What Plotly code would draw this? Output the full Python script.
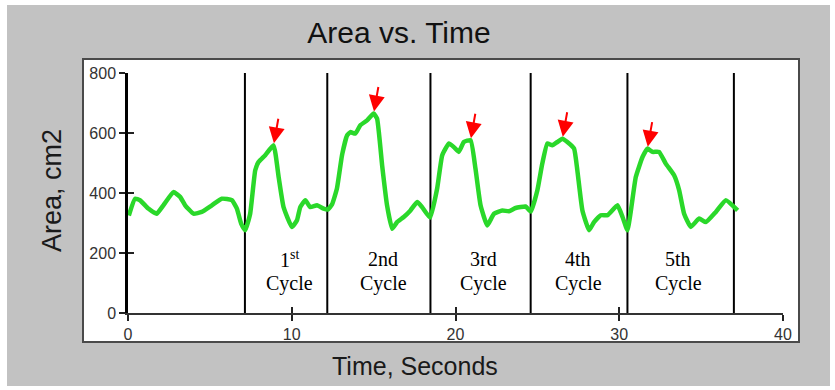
import plotly.graph_objects as go

# ---- data -------------------------------------------------------------
time_s = [0.05, 0.43, 0.73, 1.24, 1.75, 2.16, 2.77, 3.18, 3.49, 4.0, 4.5, 5.12,
          5.73, 6.34, 6.65, 6.91, 7.16, 7.46, 7.77, 7.97, 8.38, 8.89, 9.2, 9.5,
          10.01, 10.32, 10.52, 10.83, 11.13, 11.54, 11.95, 12.2, 12.46, 12.76,
          13.07, 13.38, 13.58, 13.88, 14.19, 14.6, 15.0, 15.21, 15.52, 15.82,
          16.13, 16.43, 16.84, 17.25, 17.66, 17.96, 18.45, 18.88, 19.19, 19.6,
          19.9, 20.2, 20.51, 20.92, 21.22, 21.53, 21.94, 22.35, 22.86, 23.26,
          23.67, 24.28, 24.6, 25.0, 25.3, 25.61, 25.91, 26.22, 26.53, 26.83,
          27.24, 27.44, 27.75, 28.16, 28.46, 28.87, 29.28, 29.89, 30.2, 30.5,
          30.7, 31.01, 31.42, 31.72, 32.03, 32.43, 32.84, 33.35, 33.66, 33.96,
          34.37, 34.88, 35.29, 35.9, 36.51, 37.23]
area_cm2 = [325, 381, 376, 348, 331, 359, 403, 387, 359, 331, 337, 359,
            381, 376, 348, 298, 276, 331, 476, 503, 526, 559, 453, 353,
            287, 309, 353, 376, 353, 359, 348, 345, 362, 415,
            526, 592, 603, 598, 626, 642, 665, 648, 492, 359,
            281, 303, 320, 342, 370, 353, 318, 415, 526, 565,
            553, 537, 570, 576, 481, 359, 292, 331, 342, 339,
            350, 355, 338, 409, 498, 565, 559, 570, 581, 570,
            548, 476, 342, 276, 303, 326, 326, 359, 320, 276,
            337, 453, 520, 548, 537, 537, 498, 459, 409, 331,
            287, 315, 303, 337, 376, 342]

cycle_bounds = [7.14, 12.17, 18.47, 24.59, 30.5, 37.0]
peak_time = [8.89, 15.0, 20.92, 26.53, 31.72]
peak_area = [559, 665, 576, 581, 548]
cycle_ordinal = ["1<sup>st</sup>", "2nd", "3rd", "4th", "5th"]
cycle_label_x = [9.85, 15.6, 21.7, 27.5, 33.6]
x_ticks = [0, 10, 20, 30, 40]
y_ticks = [0, 200, 400, 600, 800]

# ---- geometry helpers (pixel -> paper coordinates) ----------------------
W, H = 835, 390
ML, MR, MT, MB = 128, 52, 73, 77
PW, PH = W - ML - MR, H - MT - MB


def px(xp):
    return (xp - ML) / PW


def py(yp):
    return (H - MB - yp) / PH


SANS = "Liberation Sans, Arial, sans-serif"
SERIF = "Liberation Serif, Times New Roman, serif"

fig = go.Figure()

fig.add_trace(go.Scatter(
    x=time_s, y=area_cm2, mode="lines",
    line=dict(color="#2ad82a", width=4.5, shape="spline", smoothing=0.4),
    hoverinfo="skip",
))
# helper traces so the overlay axes (inside ticks) get drawn
fig.add_trace(go.Scatter(x=[None], y=[None], xaxis="x2", yaxis="y", showlegend=False))
fig.add_trace(go.Scatter(x=[None], y=[None], xaxis="x", yaxis="y2", showlegend=False))

shapes = [
    # grey outer panel
    dict(type="rect", xref="paper", yref="paper", layer="below",
         x0=px(7), x1=px(830), y0=py(386), y1=py(5),
         fillcolor="#c2c2c2", line=dict(width=0)),
    # white inner panel
    dict(type="rect", xref="paper", yref="paper", layer="below",
         x0=px(83), x1=px(799), y0=py(342), y1=py(59),
         fillcolor="white", line=dict(color="#4a4a4a", width=2)),
]
for t in cycle_bounds:
    shapes.append(dict(type="line", xref="x", yref="y", layer="below",
                       x0=t, x1=t, y0=0, y1=800,
                       line=dict(color="black", width=2)))

annotations = []
for t, a in zip(peak_time, peak_area):
    annotations.append(dict(
        x=t, y=a, xref="x", yref="y", text="", showarrow=True,
        ax=5, ay=-28, standoff=2, arrowhead=2, arrowsize=1.6,
        arrowwidth=2, arrowcolor="#ff0000"))
for lab, lx in zip(cycle_ordinal, cycle_label_x):
    annotations.append(dict(x=lx, y=179, xref="x", yref="y", text=lab,
                            xanchor="center", yanchor="middle", showarrow=False,
                            font=dict(family=SERIF, size=20, color="black")))
    annotations.append(dict(x=lx, y=99, xref="x", yref="y", text="Cycle",
                            xanchor="center", yanchor="middle", showarrow=False,
                            font=dict(family=SERIF, size=20, color="black")))

# axis titles
annotations.append(dict(x=px(415), y=py(366), xref="paper", yref="paper",
                        xanchor="center", yanchor="middle",
                        text="Time, Seconds", showarrow=False,
                        font=dict(family=SANS, size=25, color="#1a1a1a")))
annotations.append(dict(x=px(52), y=py(191), xref="paper", yref="paper",
                        xanchor="center", yanchor="middle",
                        text="Area, cm2", showarrow=False, textangle=-90,
                        font=dict(family=SANS, size=27, color="#1a1a1a")))

fig.update_layout(
    width=W, height=H,
    margin=dict(l=ML, r=MR, t=MT, b=MB, pad=0),
    paper_bgcolor="white", plot_bgcolor="white",
    showlegend=False,
    title=dict(text="Area vs. Time", xref="container", yref="container",
               x=399 / W, y=1 - 32 / H, xanchor="center", yanchor="middle",
               font=dict(family=SANS, size=30, color="#111111")),
    shapes=shapes,
    annotations=annotations,
    xaxis=dict(range=[0, 40], tickvals=x_ticks, ticks="outside", ticklen=6,
               tickwidth=1.5, tickcolor="#222", showgrid=False, zeroline=False,
               showline=True, linecolor="#333", linewidth=2,
               tickfont=dict(family=SANS, size=16, color="#333")),
    yaxis=dict(range=[0, 800], tickvals=y_ticks, ticks="outside", ticklen=6,
               tickwidth=1.5, tickcolor="#222", showgrid=False, zeroline=False,
               showline=True, linecolor="black", linewidth=2.5,
               tickfont=dict(family=SANS, size=16, color="#333")),
    xaxis2=dict(range=[0, 40], tickvals=x_ticks, overlaying="x", anchor="y",
                side="bottom", ticks="inside", ticklen=6, tickwidth=1.5,
                tickcolor="#222", showticklabels=False, showgrid=False,
                zeroline=False, showline=False),
    yaxis2=dict(range=[0, 800], tickvals=y_ticks, overlaying="y", anchor="x",
                side="left", ticks="inside", ticklen=6, tickwidth=1.5,
                tickcolor="#222", showticklabels=False, showgrid=False,
                zeroline=False, showline=False),
)

fig.write_html("out.html")
